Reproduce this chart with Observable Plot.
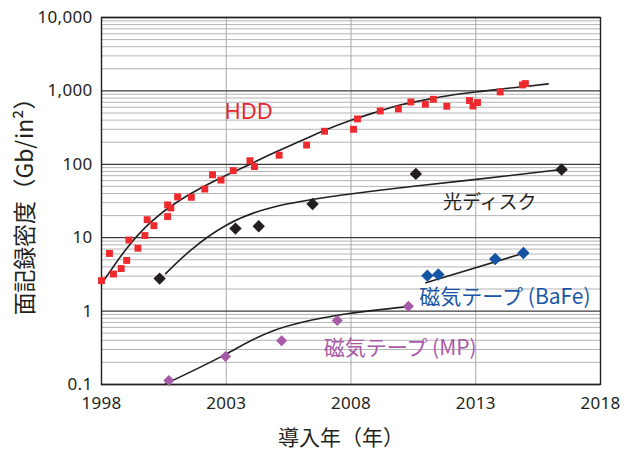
<!DOCTYPE html>
<html lang="ja">
<head>
<meta charset="utf-8">
<title>面記録密度の推移</title>
<script src="https://cdn.jsdelivr.net/npm/d3@7"></script>
<script src="https://cdn.jsdelivr.net/npm/@observablehq/plot@0.6"></script>
<style>
  html, body { margin: 0; padding: 0; background: #fff; }
  #chart { width: 635px; height: 450px; }
  #chart svg g[aria-label="x-axis tick label"] text,
  #chart svg g[aria-label="y-axis tick label"] text { letter-spacing: 0.3px; }
</style>
</head>
<body>
<div id="chart"></div>
<script>
// Axis ticks
const xTicks = [1998, 2003, 2008, 2013, 2018];
const yTicks = [0.1, 1, 10, 100, 1000, 10000];

// HDD products: introduction year and areal density (Gb/in²)
const hddYear = [1998.0, 1998.32, 1998.48, 1998.79, 1999.01, 1999.1, 1999.46, 1999.74, 1999.83, 2000.1,
  2000.65, 2000.65, 2000.78, 2001.05, 2001.6, 2002.14, 2002.45, 2002.79, 2003.28, 2003.95,
  2004.13, 2005.12, 2006.22, 2006.94, 2008.1, 2008.26, 2009.17, 2009.9, 2010.4, 2010.98,
  2011.3, 2011.84, 2012.75, 2012.89, 2013.07, 2013.98, 2014.87, 2014.99];
const hddDensity = [2.6, 6.1, 3.2, 3.8, 4.9, 9.3, 7.2, 10.7, 17.6, 14.6,
  28, 19.4, 25.4, 36, 35.5, 46, 72, 61, 82, 112,
  93, 133, 183, 282, 300, 415, 533, 568, 707, 658,
  769, 618, 739, 623, 694, 968, 1205, 1259];

// Optical disc
const opticalYear = [2000.33, 2003.37, 2004.3, 2006.46, 2010.6, 2016.44];
const opticalDensity = [2.77, 13.3, 14.3, 28.8, 74, 85];

// Magnetic tape (BaFe)
const bafeYear = [2011.06, 2011.5, 2013.78, 2014.91];
const bafeDensity = [3.04, 3.16, 5.12, 6.18];

// Magnetic tape (MP)
const mpYear = [2000.7, 2002.97, 2005.22, 2007.45, 2010.3];
const mpDensity = [0.1135, 0.241, 0.395, 0.746, 1.16];

// Trend curves
const hddTrendYear = [1998.0, 1999.0, 2000.0, 2001.0, 2002.0, 2003.0, 2004.0, 2005.0, 2006.0, 2007.0,
  2008.0, 2009.0, 2010.0, 2011.0, 2012.0, 2013.0, 2014.0, 2015.0, 2015.9];
const hddTrendDensity = [2.34, 7.08, 16.6, 30.2, 47.9, 70.8, 102, 148, 209, 295,
  398, 513, 646, 759, 871, 966, 1059, 1148, 1245];
const opticalTrendYear = [2000.57, 2001.57, 2003.0, 2004.91, 2007.59, 2010.26, 2012.93, 2016.44];
const opticalTrendDensity = [3.24, 6.73, 14.8, 26.2, 37.8, 49.1, 61.8, 85];
const bafeTrendYear = [2011.0, 2015.07];
const bafeTrendDensity = [2.44, 6.37];
const mpTrendYear = [2000.57, 2002.97, 2004.91, 2007.59, 2010.3];
const mpTrendDensity = [0.102, 0.257, 0.546, 0.893, 1.15];

// Series labels
const labelText = ["HDD", "光ディスク", "磁気テープ (BaFe)", "磁気テープ (MP)"];
const labelYear = [2003.9, 2013.56, 2014.17, 2009.97];
const labelDensity = [516, 29.4, 1.54, 0.31];
const labelColor = ["#e9262c", "#231f20", "#1b57a6", "#a95ba9"];

const zip = (xs, ys) => xs.map((x, i) => ({year: x, value: ys[i]}));
const hdd = zip(hddYear, hddDensity);
const optical = zip(opticalYear, opticalDensity);
const bafe = zip(bafeYear, bafeDensity);
const mp = zip(mpYear, mpDensity);
const labels = labelText.map((t, i) => ({text: t, year: labelYear[i], value: labelDensity[i], color: labelColor[i]}));

// Minor log grid: 2..9 within each decade
const minorTicks = [];
for (const d of [0.1, 1, 10, 100, 1000]) for (let k = 2; k <= 9; k++) minorTicks.push(+(k * d).toPrecision(3));

const cjk = "'Noto Sans CJK JP', 'Noto Sans', sans-serif";
const latin = "'Noto Sans', 'Noto Sans CJK JP', sans-serif";
const ink = "#231f20";

const trend = (data) => Plot.line(data, {x: "year", y: "value", curve: "natural", stroke: ink, strokeWidth: 1.6});

const chart = Plot.plot({
  width: 635,
  height: 450,
  marginLeft: 101,
  marginRight: 35,
  marginTop: 17,
  marginBottom: 66,
  style: {fontFamily: latin, fontSize: "17px", color: ink, background: "#fff", overflow: "visible"},
  x: {type: "linear", domain: [1998, 2018], ticks: xTicks, tickFormat: (d) => String(d), tickSize: 0, tickPadding: 12, label: null},
  y: {type: "log", domain: [0.1, 10000], ticks: yTicks, tickFormat: d3.format(","), tickSize: 0, tickPadding: 9, label: null},
  marks: [
    Plot.gridY({ticks: minorTicks, stroke: "#b4b4b4", strokeOpacity: 1, strokeWidth: 1}),
    Plot.gridX({ticks: [2003, 2008, 2013], stroke: "#a8a8a8", strokeOpacity: 1, strokeWidth: 1}),
    Plot.gridY({ticks: yTicks, stroke: "#3c3c3c", strokeOpacity: 1, strokeWidth: 1.3}),
    Plot.frame({stroke: ink, strokeWidth: 1.4}),
    trend(zip(hddTrendYear, hddTrendDensity)),
    trend(zip(opticalTrendYear, opticalTrendDensity)),
    trend(zip(bafeTrendYear, bafeTrendDensity)),
    trend(zip(mpTrendYear, mpTrendDensity)),
    Plot.dot(hdd, {x: "year", y: "value", symbol: "square", r: 3.9, fill: "#ee2a2f"}),
    Plot.dot(optical, {x: "year", y: "value", symbol: "diamond2", r: 5.6, fill: ink}),
    Plot.dot(bafe, {x: "year", y: "value", symbol: "diamond2", r: 5.6, fill: "#1553a3"}),
    Plot.dot(mp, {x: "year", y: "value", symbol: "diamond2", r: 5.0, fill: "#a65aa7"}),
    Plot.text(labels.slice(0, 1), {x: "year", y: "value", text: "text", fill: "color", fontSize: 22, fontFamily: latin}),
    Plot.text(labels.slice(1, 2), {x: "year", y: "value", text: "text", fill: "color", fontSize: 19, fontFamily: cjk}),
    Plot.text(labels.slice(2), {x: "year", y: "value", text: "text", fill: "color", fontSize: 21, fontFamily: cjk}),
    Plot.text(["導入年（年）"], {frameAnchor: "bottom", textAnchor: "middle", lineAnchor: "middle", dx: -10, dy: 54, fontSize: 21, fill: ink, fontFamily: cjk}),
    Plot.text(["面記録密度（Gb/in²）"], {frameAnchor: "left", textAnchor: "middle", lineAnchor: "middle", rotate: -90, dx: -76, dy: 0, fontSize: 22.8, fill: ink, fontFamily: cjk})
  ]
});

document.getElementById("chart").appendChild(chart);
</script>
</body>
</html>
